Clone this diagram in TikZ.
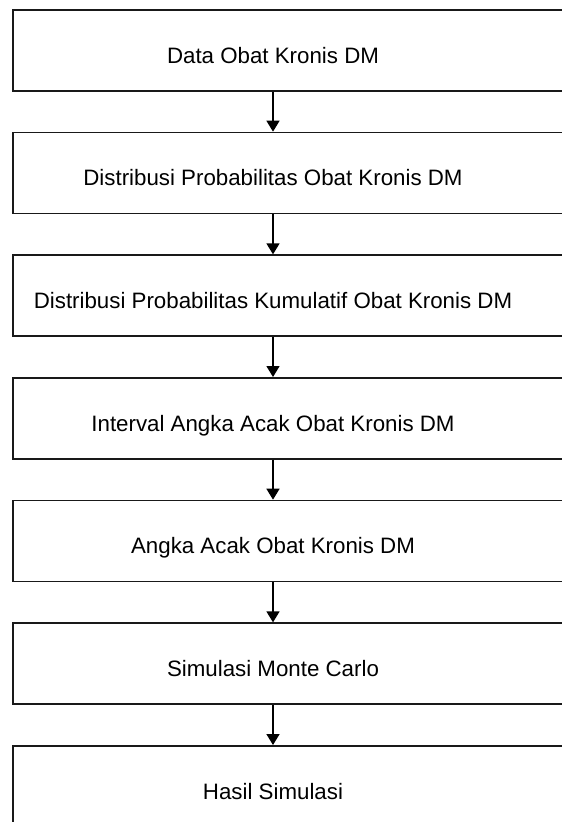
\documentclass[tikz,border=0pt]{standalone}
\usepackage{fontspec}
\setmainfont{Liberation Sans}
\usetikzlibrary{arrows.meta}
\begin{document}
\begin{tikzpicture}[x=1pt,y=-1pt,
  stepbox/.style={draw=black!90, line width=1.6pt, rectangle, anchor=north west,
    minimum width=600pt, minimum height=81pt, inner sep=0pt},
  steptext/.style={anchor=base, inner sep=0pt, font=\fontsize{22.3}{26}\selectfont},
  flow/.style={line width=1.5pt, -{Triangle[width=13pt,length=11pt]}}]
\useasboundingbox (0,0) rectangle (562,822);
\foreach \i/\t in {1/Data Obat Kronis DM,
  2/Distribusi Probabilitas Obat Kronis DM,
  3/Distribusi Probabilitas Kumulatif Obat Kronis DM,
  4/Interval Angka Acak Obat Kronis DM,
  5/Angka Acak Obat Kronis DM,
  6/Simulasi Monte Carlo,
  7/Hasil Simulasi} {
  \node[stepbox] (b\i) at (12, {9+122.67*(\i-1)}) {};
  \node[steptext] (t\i) at (273, {9+122.67*(\i-1)+54}) {\t};
}
\foreach \i [evaluate=\i as \j using int(\i+1)] in {1,...,6} {
  \draw[flow] (t\i |- b\i.south) -- (t\j |- b\j.north);
}
\end{tikzpicture}
\end{document}
